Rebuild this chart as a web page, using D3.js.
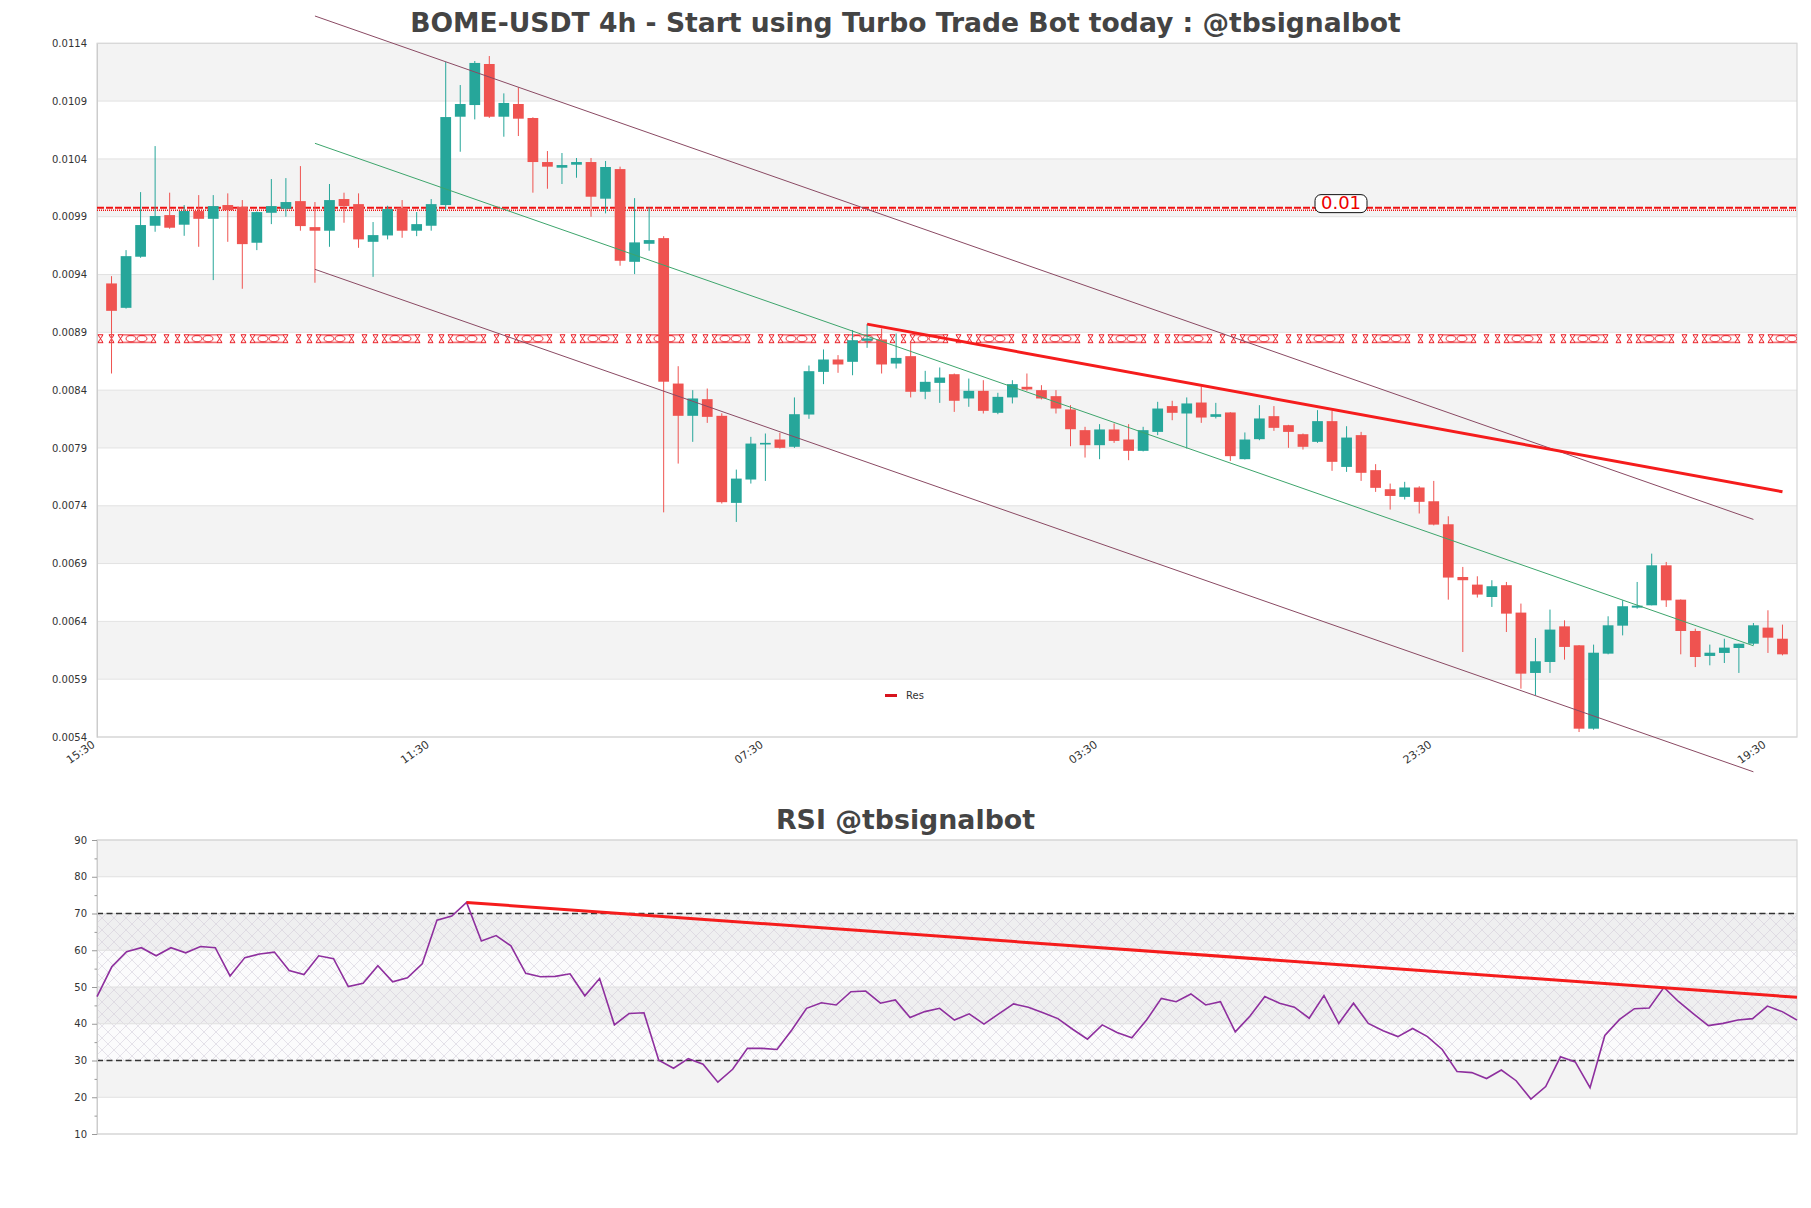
<!DOCTYPE html>
<html><head><meta charset="utf-8">
<script src="https://cdn.jsdelivr.net/npm/d3@7"></script>
<style>
body{margin:0;background:#fff;}
svg{display:block;font-family:"DejaVu Sans",sans-serif;}
</style>
</head><body>
<svg id="c" width="1811" height="1208"></svg>
<script>
// ---------------- DATA ----------------
const opens = [0.009323,0.009112,0.009554,0.009822,0.009914,0.009831,0.009949,0.009882,0.010001,0.009986,
0.009675,0.009934,0.009969,0.010035,0.009810,0.009779,0.010053,0.010009,0.009683,0.009738,
0.009978,0.009779,0.009822,0.010001,0.010765,0.010866,0.011221,0.010765,0.010875,0.010754,
0.010373,0.010324,0.010350,0.010373,0.010056,0.010312,0.009510,0.009666,0.009715,0.008457,
0.008178,0.008322,0.008178,0.007425,0.007627,0.007930,0.007973,0.007910,0.008189,0.008558,
0.008665,0.008645,0.008827,0.008838,0.008630,0.008694,0.008386,0.008463,0.008538,0.008328,
0.008394,0.008204,0.008337,0.008429,0.008400,0.008348,0.008233,0.008054,0.007924,0.008060,
0.007973,0.007875,0.008039,0.008262,0.008198,0.008293,0.008169,0.008207,0.007803,0.007976,
0.008175,0.008097,0.008019,0.007953,0.008132,0.007736,0.008011,0.007708,0.007543,0.007477,
0.007558,0.007439,0.007240,0.006784,0.006718,0.006611,0.006713,0.006476,0.005954,0.006049,
0.006357,0.006193,0.005472,0.006121,0.006363,0.006519,0.006539,0.006885,0.006588,0.006317,
0.006101,0.006127,0.006170,0.006207,0.006346,0.006250];
const highs = [0.009386,0.009611,0.010113,0.010511,0.010108,0.010001,0.010087,0.010087,0.010102,0.010044,
0.009945,0.010226,0.010234,0.010338,0.010027,0.010183,0.010108,0.010102,0.009854,0.009995,
0.010044,0.009940,0.010053,0.011238,0.011039,0.011247,0.011290,0.010967,0.011019,0.010760,
0.010468,0.010451,0.010408,0.010408,0.010382,0.010333,0.010061,0.009981,0.009732,0.008607,
0.008400,0.008414,0.008200,0.007713,0.007996,0.008025,0.008031,0.008337,0.008613,0.008752,
0.008703,0.008919,0.008971,0.008933,0.008890,0.008818,0.008567,0.008596,0.008544,0.008500,
0.008486,0.008377,0.008486,0.008544,0.008443,0.008400,0.008270,0.008083,0.008106,0.008112,
0.008106,0.008083,0.008299,0.008308,0.008337,0.008429,0.008290,0.008210,0.008034,0.008270,
0.008262,0.008100,0.008025,0.008227,0.008221,0.008088,0.008039,0.007760,0.007592,0.007607,
0.007569,0.007615,0.007309,0.006871,0.006790,0.006756,0.006741,0.006554,0.006256,0.006502,
0.006409,0.006195,0.006199,0.006444,0.006582,0.006741,0.006986,0.006914,0.006590,0.006337,
0.006199,0.006250,0.006207,0.006386,0.006496,0.006372];
const lows = [0.008544,0.009105,0.009545,0.009770,0.009796,0.009735,0.009640,0.009352,0.009683,0.009277,
0.009611,0.009836,0.009900,0.009779,0.009329,0.009640,0.009848,0.009631,0.009380,0.009704,
0.009718,0.009732,0.009779,0.009957,0.010462,0.010742,0.010755,0.010592,0.010598,0.010108,
0.010142,0.010183,0.010237,0.009900,0.009929,0.009476,0.009404,0.009606,0.007343,0.007765,
0.007953,0.008117,0.007419,0.007260,0.007592,0.007615,0.007895,0.007900,0.008152,0.008452,
0.008550,0.008529,0.008766,0.008544,0.008587,0.008337,0.008322,0.008290,0.008212,0.008256,
0.008198,0.008192,0.008285,0.008395,0.008320,0.008198,0.007915,0.007817,0.007803,0.007944,
0.007794,0.007870,0.008011,0.008140,0.007895,0.008117,0.008155,0.007788,0.007800,0.007967,
0.008048,0.007901,0.007886,0.007944,0.007702,0.007693,0.007615,0.007520,0.007367,0.007454,
0.007333,0.007230,0.006588,0.006135,0.006606,0.006525,0.006308,0.005818,0.005760,0.005954,
0.006069,0.005443,0.005463,0.006115,0.006279,0.006510,0.006539,0.006525,0.006115,0.006005,
0.006020,0.006040,0.005954,0.006193,0.006127,0.006106];
const closes = [0.009086,0.009559,0.009828,0.009906,0.009805,0.009949,0.009882,0.009992,0.009957,0.009663,
0.009940,0.009992,0.010027,0.009819,0.009779,0.010044,0.009992,0.009704,0.009741,0.009966,
0.009779,0.009836,0.010009,0.010762,0.010875,0.011230,0.010765,0.010884,0.010748,0.010373,
0.010333,0.010347,0.010373,0.010073,0.010330,0.009519,0.009678,0.009698,0.008473,0.008178,
0.008328,0.008169,0.007431,0.007635,0.007938,0.007944,0.007901,0.008192,0.008564,0.008665,
0.008622,0.008832,0.008847,0.008622,0.008679,0.008386,0.008472,0.008509,0.008308,0.008394,
0.008221,0.008342,0.008452,0.008406,0.008328,0.008241,0.008062,0.007924,0.008060,0.007961,
0.007875,0.008054,0.008241,0.008204,0.008285,0.008163,0.008192,0.007829,0.007973,0.008155,
0.008074,0.008039,0.007910,0.008132,0.007780,0.007990,0.007685,0.007555,0.007485,0.007558,
0.007434,0.007237,0.006779,0.006756,0.006632,0.006704,0.006467,0.005948,0.006055,0.006329,
0.006179,0.005472,0.006129,0.006366,0.006531,0.006536,0.006885,0.006582,0.006317,0.006092,
0.006129,0.006173,0.006207,0.006366,0.006259,0.006115];
const rsiValues = [47.4,55.5,59.6,60.7,58.5,60.7,59.3,61.0,60.7,53.0,
58.0,59.0,59.5,54.5,53.4,58.5,57.7,50.1,51.0,55.8,
51.4,52.5,56.3,68.2,69.3,73.0,62.5,64.0,61.2,53.7,
52.8,52.9,53.6,47.6,52.3,39.7,42.8,43.0,30.1,27.9,
30.5,29.0,24.1,27.6,33.3,33.3,33.0,38.3,44.2,45.7,
45.1,48.7,48.9,45.6,46.5,41.7,43.3,44.2,41.0,42.7,
39.9,42.7,45.4,44.5,43.0,41.4,38.5,35.8,39.7,37.6,
36.2,41.0,46.9,46.0,48.1,45.1,46.0,37.8,42.1,47.4,
45.6,44.5,41.5,47.7,40.1,45.6,40.1,38.1,36.5,38.7,
36.5,33.0,27.0,26.7,25.1,27.4,24.5,19.5,22.9,31.0,
29.6,22.6,36.8,41.2,44.1,44.3,49.9,46.0,42.7,39.5,
40.1,41.0,41.4,44.8,43.3,41.0];
const xTickLabels = ["15:30","11:30","07:30","03:30","23:30","19:30"];
const xTickIndex = [-1,22,45,68,91,114];
const priceTicks = [0.0054,0.0059,0.0064,0.0069,0.0074,0.0079,0.0084,0.0089,0.0094,0.0099,0.0104,0.0109,0.0114];
const rsiTicks = [10,20,30,40,50,60,70,80,90];
const rsiMinorTicks = [15,25,35,45,55,65,75,85];
const channelIdx = [14,113];
const channelUpper = [0.011636,0.007282];
const channelMid = [0.010535,0.006189];
const channelLower = [0.009445,0.005099];
const resIdx = [52,115];
const resVal = [0.008971,0.007521];
const rsiTrendIdx = [25,115];
const rsiTrendVal = [73.0,47.2];
const levelTop = 0.00997, levelTopLabel = "0.01";
const levelBottom = 0.008845;
const rsiLevels = [70,30];
const rsiZone = [30,70];
const titleMain = "BOME-USDT 4h - Start using Turbo Trade Bot today : @tbsignalbot";
const titleRsi = "RSI @tbsignalbot";
const legendLabel = "Res";

// ---------------- LAYOUT ----------------
const svg = d3.select("#c");
const M = {l:97, r:1797, t:43.3, b:737};
const R = {l:97, r:1797, t:840, b:1134};
const UP = "#26a69a", DN = "#ef5350";
const n = opens.length;
const x = d3.scaleLinear().domain([-1, n]).range([M.l, M.r]);
const y = d3.scaleLinear().domain([priceTicks[0], priceTicks[priceTicks.length-1]]).range([M.b, M.t]);
const xr = d3.scaleLinear().domain([0, rsiValues.length-1]).range([R.l, R.r]);
const yr = d3.scaleLinear().domain([rsiTicks[0], rsiTicks[rsiTicks.length-1]]).range([R.b, R.t]);

const defs = svg.append("defs");
const hp = defs.append("pattern").attr("id","hatch").attr("width",12).attr("height",12)
  .attr("patternUnits","userSpaceOnUse");
hp.append("path").attr("d","M0,0 L12,12 M12,0 L0,12").attr("stroke","#d2cbd9").attr("stroke-width",0.8).attr("fill","none");
const cp = defs.append("pattern").attr("id","chain").attr("width",66).attr("height",9)
  .attr("patternUnits","userSpaceOnUse").attr("x",M.l).attr("y",y(levelBottom)-4.5);
function hourglass(x0){return `M${x0},0.6 H${x0+5} M${x0},8.4 H${x0+5} M${x0},0.6 L${x0+5},8.4 M${x0+5},0.6 L${x0},8.4`;}
cp.append("path").attr("d",[hourglass(1),hourglass(12),hourglass(21),hourglass(54),"M26,0.8 H54 M26,8.2 H54"].join(" "))
  .attr("stroke","#e8141c").attr("stroke-width",1).attr("fill","none");
cp.append("ellipse").attr("cx",34).attr("cy",4.5).attr("rx",5).attr("ry",3.2).attr("stroke","#e8141c").attr("fill","none").attr("stroke-width",1);
cp.append("ellipse").attr("cx",45).attr("cy",4.5).attr("rx",5).attr("ry",3.2).attr("stroke","#e8141c").attr("fill","none").attr("stroke-width",1);

// ---------------- TITLES ----------------
svg.append("text").attr("x",905.5).attr("y",32).attr("text-anchor","middle")
  .attr("font-size",26.6).attr("font-weight","bold").attr("fill","#444").text(titleMain);
svg.append("text").attr("x",905.5).attr("y",829).attr("text-anchor","middle")
  .attr("font-size",26.8).attr("font-weight","bold").attr("fill","#444").text(titleRsi);

// ---------------- MAIN PLOT BACKGROUND ----------------
const gm = svg.append("g");
gm.selectAll("rect.band").data(d3.pairs(priceTicks)).join("rect")
  .attr("x",M.l).attr("width",M.r-M.l)
  .attr("y",d=>y(d[1])).attr("height",d=>y(d[0])-y(d[1]))
  .attr("fill",(d,i)=> i%2 ? "#f3f3f3" : "#ffffff");
gm.selectAll("line.grid").data(priceTicks).join("line")
  .attr("x1",M.l).attr("x2",M.r).attr("y1",d=>y(d)).attr("y2",d=>y(d))
  .attr("stroke","#e2e2e2").attr("stroke-width",1);
gm.append("rect").attr("x",M.l).attr("y",M.t).attr("width",M.r-M.l).attr("height",M.b-M.t)
  .attr("fill","none").attr("stroke","#d6d6d6").attr("stroke-width",1.2);

// y axis
const yAxis = d3.axisLeft(y).tickValues(priceTicks).tickFormat(d3.format(".4f")).tickSize(0).tickPadding(10);
const yg = gm.append("g").attr("transform",`translate(${M.l},0)`).call(yAxis);
yg.select(".domain").attr("stroke","#cccccc");
yg.selectAll("text").attr("font-size",10).attr("fill","#333").attr("font-family","DejaVu Sans");

// x axis
const xAxis = d3.axisBottom(x).tickValues(xTickIndex).tickFormat((d,i)=>xTickLabels[i]).tickSize(0);
const xg = gm.append("g").attr("transform",`translate(0,${M.b})`).call(xAxis);
xg.select(".domain").remove();
xg.selectAll("text").attr("font-size",11).attr("fill","#333").attr("font-family","DejaVu Sans")
  .attr("text-anchor","end").attr("x",0).attr("y",0).attr("dy","0.35em")
  .attr("transform","translate(-4,6) rotate(-35)");

// ---------------- LEVEL LINES ----------------
gm.append("line").attr("x1",M.l).attr("x2",M.r).attr("y1",y(levelTop)-1).attr("y2",y(levelTop)-1)
  .attr("stroke","#f01010").attr("stroke-width",2).attr("stroke-dasharray","7,2");
gm.append("line").attr("x1",M.l).attr("x2",M.r).attr("y1",y(levelTop)+1.5).attr("y2",y(levelTop)+1.5)
  .attr("stroke","#f01010").attr("stroke-width",1.5).attr("stroke-dasharray","1,1");
gm.append("rect").attr("x",M.l).attr("width",M.r-M.l).attr("y",y(levelBottom)-4.5).attr("height",9)
  .attr("fill","url(#chain)");

// ---------------- CANDLES ----------------
const candles = d3.range(n).map(i=>({i,o:opens[i],h:highs[i],l:lows[i],c:closes[i]}));
const step = x(1)-x(0);
const bw = step*0.74;
const cg = gm.append("g");
cg.selectAll("line.wick").data(candles).join("line")
  .attr("x1",d=>x(d.i)).attr("x2",d=>x(d.i)).attr("y1",d=>y(d.h)).attr("y2",d=>y(d.l))
  .attr("stroke",d=>d.c>=d.o?UP:DN).attr("stroke-width",1);
cg.selectAll("rect.body").data(candles).join("rect")
  .attr("x",d=>x(d.i)-bw/2).attr("width",bw)
  .attr("y",d=>y(Math.max(d.o,d.c))).attr("height",d=>Math.max(1.5,Math.abs(y(d.o)-y(d.c))))
  .attr("fill",d=>d.c>=d.o?UP:DN);

// ---------------- CHANNEL & TREND ----------------
const lineGen = (xs,vs)=>d3.line()(xs.map((v,k)=>[x(v),y(vs[k])]));
gm.append("path").attr("d",lineGen(channelIdx,channelUpper)).attr("stroke","#8a4a63").attr("stroke-width",1).attr("fill","none");
gm.append("path").attr("d",lineGen(channelIdx,channelLower)).attr("stroke","#8a4a63").attr("stroke-width",1).attr("fill","none");
gm.append("path").attr("d",lineGen(channelIdx,channelMid)).attr("stroke","#3da56c").attr("stroke-width",1).attr("fill","none");
gm.append("path").attr("d",lineGen(resIdx,resVal)).attr("stroke","#f51c1c").attr("stroke-width",3).attr("fill","none");

// level label
const lblX = 1341, lblY = y(levelTop);
gm.append("rect").attr("x",lblX-26).attr("y",lblY-14).attr("width",52).attr("height",18).attr("rx",6)
  .attr("fill","#fff").attr("stroke","#111").attr("stroke-width",1);
gm.append("text").attr("x",lblX).attr("y",lblY).attr("text-anchor","middle")
  .attr("font-size",18).attr("fill","#ee0000").text(levelTopLabel);

// legend
gm.append("line").attr("x1",885).attr("x2",897).attr("y1",695.5).attr("y2",695.5).attr("stroke","#d7141e").attr("stroke-width",3);
gm.append("text").attr("x",906).attr("y",695.5).attr("dy","0.35em").attr("font-size",10).attr("fill","#333").text(legendLabel);

// ---------------- RSI PANEL ----------------
const gr = svg.append("g");
gr.selectAll("rect.band").data(d3.pairs(rsiTicks)).join("rect")
  .attr("x",R.l).attr("width",R.r-R.l)
  .attr("y",d=>yr(d[1])).attr("height",d=>yr(d[0])-yr(d[1]))
  .attr("fill",(d,i)=> i%2 ? "#f3f3f3" : "#ffffff");
gr.append("rect").attr("x",R.l).attr("width",R.r-R.l).attr("y",yr(rsiZone[1])).attr("height",yr(rsiZone[0])-yr(rsiZone[1]))
  .attr("fill","#c0b4cc").attr("opacity",0.06);
gr.append("rect").attr("x",R.l).attr("width",R.r-R.l).attr("y",yr(rsiZone[1])).attr("height",yr(rsiZone[0])-yr(rsiZone[1]))
  .attr("fill","url(#hatch)").attr("opacity",0.7);
gr.selectAll("line.grid").data(rsiTicks).join("line")
  .attr("x1",R.l).attr("x2",R.r).attr("y1",d=>yr(d)).attr("y2",d=>yr(d))
  .attr("stroke","#e0e0e0").attr("stroke-width",1);
gr.append("rect").attr("x",R.l).attr("y",R.t).attr("width",R.r-R.l).attr("height",R.b-R.t)
  .attr("fill","none").attr("stroke","#d6d6d6").attr("stroke-width",1.2);
gr.selectAll("line.lvl").data(rsiLevels).join("line")
  .attr("x1",R.l).attr("x2",R.r).attr("y1",d=>yr(d)).attr("y2",d=>yr(d))
  .attr("stroke","#333").attr("stroke-width",1.3).attr("stroke-dasharray","6,3.5");

const ryAxis = d3.axisLeft(yr).tickValues(rsiTicks).tickSize(5).tickPadding(5);
const ryg = gr.append("g").attr("transform",`translate(${R.l},0)`).call(ryAxis);
ryg.select(".domain").attr("stroke","#cccccc");
ryg.selectAll(".tick line").attr("stroke","#999");
ryg.selectAll("text").attr("font-size",10).attr("fill","#333").attr("font-family","DejaVu Sans");
const rmAxis = d3.axisLeft(yr).tickValues(rsiMinorTicks).tickSize(2.5).tickFormat("");
const rmg = gr.append("g").attr("transform",`translate(${R.l},0)`).call(rmAxis);
rmg.select(".domain").remove();
rmg.selectAll(".tick line").attr("stroke","#999");

gr.append("path").datum(rsiValues)
  .attr("d",d3.line().x((d,i)=>xr(i)).y(d=>yr(d)))
  .attr("fill","none").attr("stroke","#8e2f9e").attr("stroke-width",1.6);
gr.append("path").attr("d",d3.line()(rsiTrendIdx.map((v,k)=>[xr(v),yr(rsiTrendVal[k])])))
  .attr("fill","none").attr("stroke","#f51c1c").attr("stroke-width",3);
</script>
</body></html>
